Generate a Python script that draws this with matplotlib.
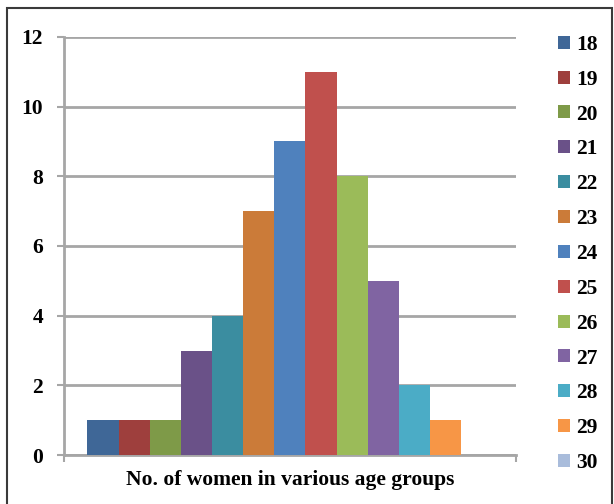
import matplotlib
matplotlib.use("Agg")
import matplotlib.pyplot as plt
from matplotlib.patches import Rectangle, Patch

# data
ages = ["18", "19", "20", "21", "22", "23", "24", "25", "26", "27", "28", "29", "30"]
counts = [1, 1, 1, 3, 4, 7, 9, 11, 8, 5, 2, 1, 0]
colors = ["#3F6797", "#9E3F3D", "#7E9A48", "#6A5188", "#3B8DA0", "#CB7B39",
          "#4F81BD", "#C0504D", "#9BBB59", "#8064A2", "#4BACC6", "#F79646",
          "#A9BCDB"]
category = "No. of women in various age groups"
yticks = [0, 2, 4, 6, 8, 10, 12]

plt.rcParams["font.family"] = "Liberation Serif"
plt.rcParams["font.weight"] = "bold"
fs = 15.5

fig = plt.figure(figsize=(6.14, 5.04), dpi=100)
ax = fig.add_axes([0.104, 0.097, 0.736, 0.83])

n = len(ages)
group = 0.896
w = group / n
for i in range(n):
    x = -group / 2 + w * (i + 0.5)
    ax.bar(x, counts[i], width=w, color=colors[i], label=ages[i], zorder=3)

grid_c = "#A6A6A6"
ax.set_ylim(0, 12)
ax.set_xlim(-0.5, 0.5)
ax.set_yticks(yticks)
ax.set_yticklabels([str(t) for t in yticks], fontsize=fs, fontweight="bold")
ax.yaxis.grid(True, color=grid_c, linewidth=2, zorder=0)
ax.set_axisbelow(True)
ax.set_xticks([-0.5, 0.5])
ax.set_xticklabels(["", ""])
ax.set_xticks([0], minor=True)
ax.set_xticklabels([category], minor=True, fontsize=fs, fontweight="bold")
ax.tick_params(axis="x", which="minor", length=0, pad=11)
ax.tick_params(axis="x", which="major", length=5, width=1.5, color=grid_c)
ax.tick_params(axis="y", length=5, width=1.5, color=grid_c, pad=10)
for s in ["top", "right"]:
    ax.spines[s].set_visible(False)
for s in ["left", "bottom"]:
    ax.spines[s].set_color(grid_c)
    ax.spines[s].set_linewidth(2)

handles = [Patch(facecolor=c, label=a) for a, c in zip(ages, colors)]
fig.legend(handles=handles, loc="upper left", bbox_to_anchor=(0.895, 0.948),
           frameon=False, prop={"weight": "bold", "size": fs},
           handlelength=0.55, handleheight=0.55, handletextpad=0.3,
           labelspacing=0.69, borderaxespad=0)

fig.patches.append(Rectangle((0.012, -0.05), 0.985, 1.035, transform=fig.transFigure,
                             fill=False, edgecolor="#3A3A3A", linewidth=1.5))

fig.savefig("out.png", dpi=100)
